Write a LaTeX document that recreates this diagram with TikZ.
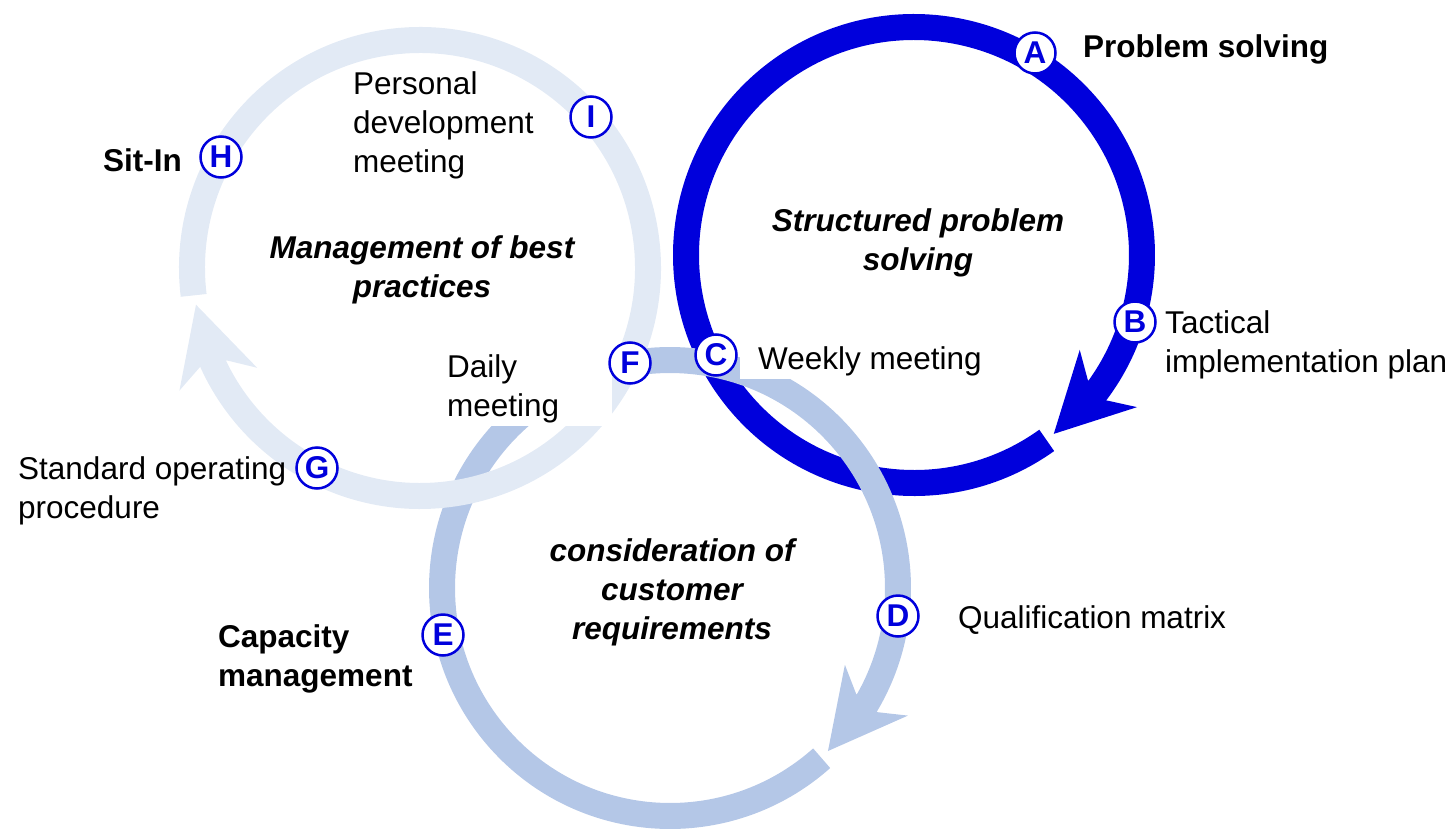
\documentclass[tikz,border=0pt]{standalone}
\usepackage{fontspec}
\setmainfont{Liberation Sans}
\definecolor{darkblue}{HTML}{0000DC}
\definecolor{midblue}{HTML}{B4C7E7}
\definecolor{lightblue}{HTML}{E2EAF5}
\newcommand\ringarrow[3]{% center coordinate, tip angle (screen, clockwise), colour
  \draw[#3, line width=26] ([shift={(#1)}]#2+2.4:228) arc[start angle=#2+2.4, end angle=#2+347, radius=228];
  \fill[#3] ([shift={(#1)}]#2-16.3:214) -- ([shift={(#1)}]#2-22.2:191) -- ([shift={(#1)}]#2:227)
     -- ([shift={(#1)}]#2-17.7:270) -- ([shift={(#1)}]#2-14.8:240) -- cycle;
}
\tikzset{
  badge/.style={circle, draw=darkblue, line width=2.5, fill=white, minimum size=41, inner sep=0,
    text=darkblue, font=\bfseries\fontsize{31.5}{31.5}\selectfont},
  lbl/.style={inner sep=0, align=left, anchor=west, font=\fontsize{31.5}{39}\selectfont},
  blbl/.style={lbl, font=\bfseries\fontsize{31.5}{39}\selectfont},
  title/.style={inner sep=0, align=center, font=\bfseries\itshape\fontsize{31.5}{39}\selectfont},
}
\begin{document}
\begin{tikzpicture}[x=1pt, y=-1pt]
\useasboundingbox (0,0) rectangle (1455,829);
\coordinate (c1) at (420,268);
\coordinate (c2) at (914,255);
\coordinate (c3) at (670,588);
% rings
\ringarrow{c2}{52}{darkblue}
\ringarrow{c3}{45.9}{midblue}
\ringarrow{c1}{170.7}{lightblue}
% titles
\node[title] (t2) at (918,243) {Structured problem\\solving};
\node[title] (t1) at (422,270) {Management of best\\practices};
\node[title] (t3) at (672,592) {consideration of\\customer\\requirements};
% labels
\node[lbl, fill=white, inner xsep=7, inner ysep=3, text width=158] (ld) at (440,389) {Daily\\meeting};
\node[lbl, fill=white, inner xsep=18, inner ysep=3] (lc) at (740,361) {Weekly meeting};
\node[blbl] (la) at (1083,49) {Problem solving};
\node[lbl] (lb) at (1165,345) {Tactical\\implementation plan};
\node[lbl] (lq) at (958,620) {Qualification matrix};
\node[blbl] (le) at (218,659) {Capacity\\management};
\node[lbl] (lg) at (18,491) {Standard operating\\procedure};
\node[blbl] (lh) at (103,160) {Sit-In};
\node[lbl] (li) at (353,125) {Personal\\development\\meeting};
% badges
\node[badge] (A) at (1035,53) {A};
\node[badge] (B) at (1135,322) {B};
\node[badge] (C) at (716,355) {C};
\node[badge] (D) at (898,616) {D};
\node[badge] (E) at (443,635) {E};
\node[badge] (F) at (630,363) {F};
\node[badge] (G) at (317,468) {G};
\node[badge] (H) at (221,157) {H};
\node[badge] (I) at (591,117) {I};
\end{tikzpicture}
\end{document}
